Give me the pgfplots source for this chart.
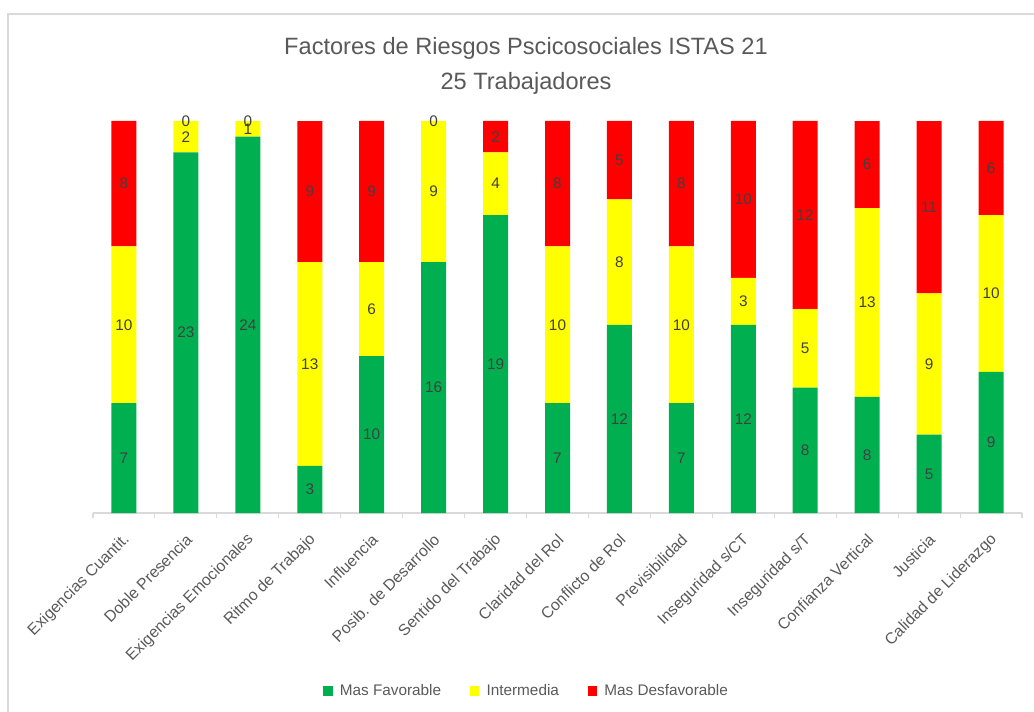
\documentclass[border=0pt]{standalone}
\usepackage{fontspec}
\setmainfont{Liberation Sans}
\usepackage{pgfplots}
\pgfplotsset{compat=1.18}
\usepackage{pgfplotstable}
\definecolor{cfav}{HTML}{00B050}
\definecolor{cmid}{HTML}{FFFF00}
\definecolor{cunf}{HTML}{FF0000}
\definecolor{cgrid}{HTML}{D9D9D9}
\definecolor{ctext}{HTML}{595959}
\definecolor{clab}{HTML}{404040}
\pgfplotstableread{
x fav mid unf
0 7 10 8
1 23 2 0
2 24 1 0
3 3 13 9
4 10 6 9
5 16 9 0
6 19 4 2
7 7 10 8
8 12 8 5
9 7 10 8
10 12 3 10
11 8 5 12
12 8 13 6
13 5 9 11
14 9 10 6
}\data
\pgfplotsset{
  base/.style={
    at={(69.75pt,148.5pt)}, anchor=south west,
    width=696.75pt, height=294pt, scale only axis,
    xmin=-0.5, xmax=14.5, ymin=0, ymax=100,
  }
}
\begin{document}
\begin{tikzpicture}[x=0.75pt,y=0.75pt]
\useasboundingbox (0,0) rectangle (1034,711);
\draw[cgrid, line width=1.2pt] (8,-5) -- (8,697) -- (1040,697);
\node[font=\fontsize{17.7}{21}\selectfont, text=ctext, anchor=base] at (526,656) {Factores de Riesgos Pscicosociales ISTAS 21};
\node[font=\fontsize{17.7}{21}\selectfont, text=ctext, anchor=base] at (526,621) {25 Trabajadores};
\begin{axis}[base,
  ybar stacked, bar width=18.75pt,
  axis y line=none, axis x line*=bottom,
  x axis line style={cgrid, line width=0.8pt},
  ytick={0,10,...,100}, yticklabels={}, ymajorgrids,
  major grid style={cgrid, line width=0.8pt},
  xtick={0,...,14},
  xticklabels={Exigencias Cuantit., Doble Presencia, Exigencias Emocionales, Ritmo de Trabajo, Influencia, Posib. de Desarrollo, Sentido del Trabajo, Claridad del Rol, Conflicto de Rol, Previsibilidad, Inseguridad s/CT, Inseguridad s/T, Confianza Vertical, Justicia, Calidad de Liderazgo},
  minor xtick={-0.5,0.5,...,14.5},
  major x tick style={draw=none},
  minor x tick style={cgrid, line width=0.8pt},
  minor tick length=3.75pt, major tick length=0pt,
  xtick align=outside,
  xticklabel style={rotate=45, anchor=east, inner sep=0pt, xshift=-11pt, yshift=-14.5pt, font=\fontsize{11.9}{14}\selectfont, text=ctext},
  legend style={at={(0.467,-0.454)}, anchor=center, draw=none, fill=none,
    legend columns=3, font=\fontsize{11.5}{13}\selectfont, text=ctext,
    /tikz/every even column/.append style={column sep=19.5pt}},
  legend cell align=left,
  legend image code/.code={\fill[#1] (0pt,-3.6pt) rectangle (7.2pt,3.6pt); \path (10.5pt,0pt);},
]
\addplot[fill=cfav, draw=none] table[x=x, y expr={\thisrow{fav}/(\thisrow{fav}+\thisrow{mid}+\thisrow{unf})*100}] {\data};
\addplot[fill=cmid, draw=none] table[x=x, y expr={\thisrow{mid}/(\thisrow{fav}+\thisrow{mid}+\thisrow{unf})*100}] {\data};
\addplot[fill=cunf, draw=none] table[x=x, y expr={\thisrow{unf}/(\thisrow{fav}+\thisrow{mid}+\thisrow{unf})*100}] {\data};
\legend{Mas Favorable, Intermedia, Mas Desfavorable}
\end{axis}
\begin{axis}[base, hide axis, clip=false,
  /pgf/number format/assume math mode=true,
  every node near coord/.append style={anchor=center, font=\fontsize{11.5}{13}\selectfont, text=clab},
]
\addplot[draw=none, mark=none, nodes near coords, point meta=explicit] table[x=x, y expr={(\thisrow{fav}/2)/(\thisrow{fav}+\thisrow{mid}+\thisrow{unf})*100}, meta=fav] {\data};
\addplot[draw=none, mark=none, nodes near coords, point meta=explicit] table[x=x, y expr={(\thisrow{fav}+\thisrow{mid}/2)/(\thisrow{fav}+\thisrow{mid}+\thisrow{unf})*100}, meta=mid] {\data};
\addplot[draw=none, mark=none, nodes near coords, point meta=explicit] table[x=x, y expr={(\thisrow{fav}+\thisrow{mid}+\thisrow{unf}/2)/(\thisrow{fav}+\thisrow{mid}+\thisrow{unf})*100}, meta=unf] {\data};
\end{axis}
\end{tikzpicture}
\end{document}
